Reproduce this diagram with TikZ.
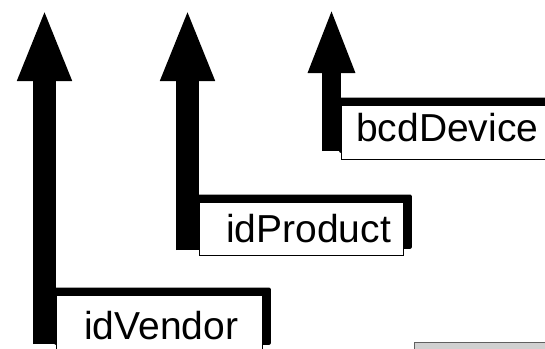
\documentclass[tikz,border=0pt]{standalone}
\usepackage{fontspec}
\setmainfont{Liberation Sans}
\usetikzlibrary{arrows.meta,backgrounds}
\definecolor{panelgray}{RGB}{208,208,208}
\definecolor{paneledge}{RGB}{96,96,96}
\begin{document}
\begin{tikzpicture}[x=1pt,y=-1pt,
  bigarrow/.style={line width=23pt,-{Triangle[width=49pt,length=73pt]}},
  smallarrow/.style={line width=19pt,-{Triangle[width=42pt,length=66pt]}},
  labelbox/.style={draw=black,line width=1.4pt,fill=white,anchor=north west,inner sep=0pt},
  boxshadow/.style={fill=black,rounded corners=2pt},
  labeltext/.style={anchor=base west,inner sep=0pt,font=\fontsize{39}{44}\selectfont}]
\useasboundingbox (0,0) rectangle (545,348);
\clip (0,0) rectangle (545,348);
% boxes
\node[labelbox,minimum width=206pt,minimum height=56pt] (vbox) at (56,295) {};
\node[labelbox,minimum width=204pt,minimum height=53pt] (pbox) at (199,202) {};
\node[labelbox,minimum width=230pt,minimum height=54pt] (dbox) at (341,105) {};
\node[labeltext] (vtext) at (84,339) {idVendor};
\node[labeltext] (ptext) at (226,242) {idProduct};
\node[labeltext] (dtext) at (356,141) {bcdDevice};
% arrows and shadows behind the boxes
\coordinate (vfoot) at (44.5,344);
\coordinate (vtip) at (44.5,8);
\coordinate (pfoot) at (187.5,250);
\coordinate (ptip) at (187.5,8);
\coordinate (dfoot) at (331.5,151);
\coordinate (dtip) at (331.5,7);
\begin{scope}[on background layer]
\draw[bigarrow] (vfoot) -- (vtip);
\draw[bigarrow] (pfoot) -- (ptip);
\draw[smallarrow] (dfoot) -- (dtip);
\fill[boxshadow] ([xshift=-2pt,yshift=7.5pt]vbox.north west) rectangle ([xshift=7.5pt,yshift=7.5pt]vbox.south east);
\fill[boxshadow] ([xshift=-2pt,yshift=7.5pt]pbox.north west) rectangle ([xshift=7.5pt,yshift=7.5pt]pbox.south east);
\fill[boxshadow] ([xshift=-2pt,yshift=7.5pt]dbox.north west) rectangle ([xshift=7.5pt,yshift=7.5pt]dbox.south east);
\end{scope}
% gray panel at bottom right
\node[draw=paneledge,fill=panelgray,line width=1.2pt,anchor=north west,minimum width=150pt,minimum height=20pt,inner sep=0pt] (panel) at (414,342) {};
\end{tikzpicture}
\end{document}
